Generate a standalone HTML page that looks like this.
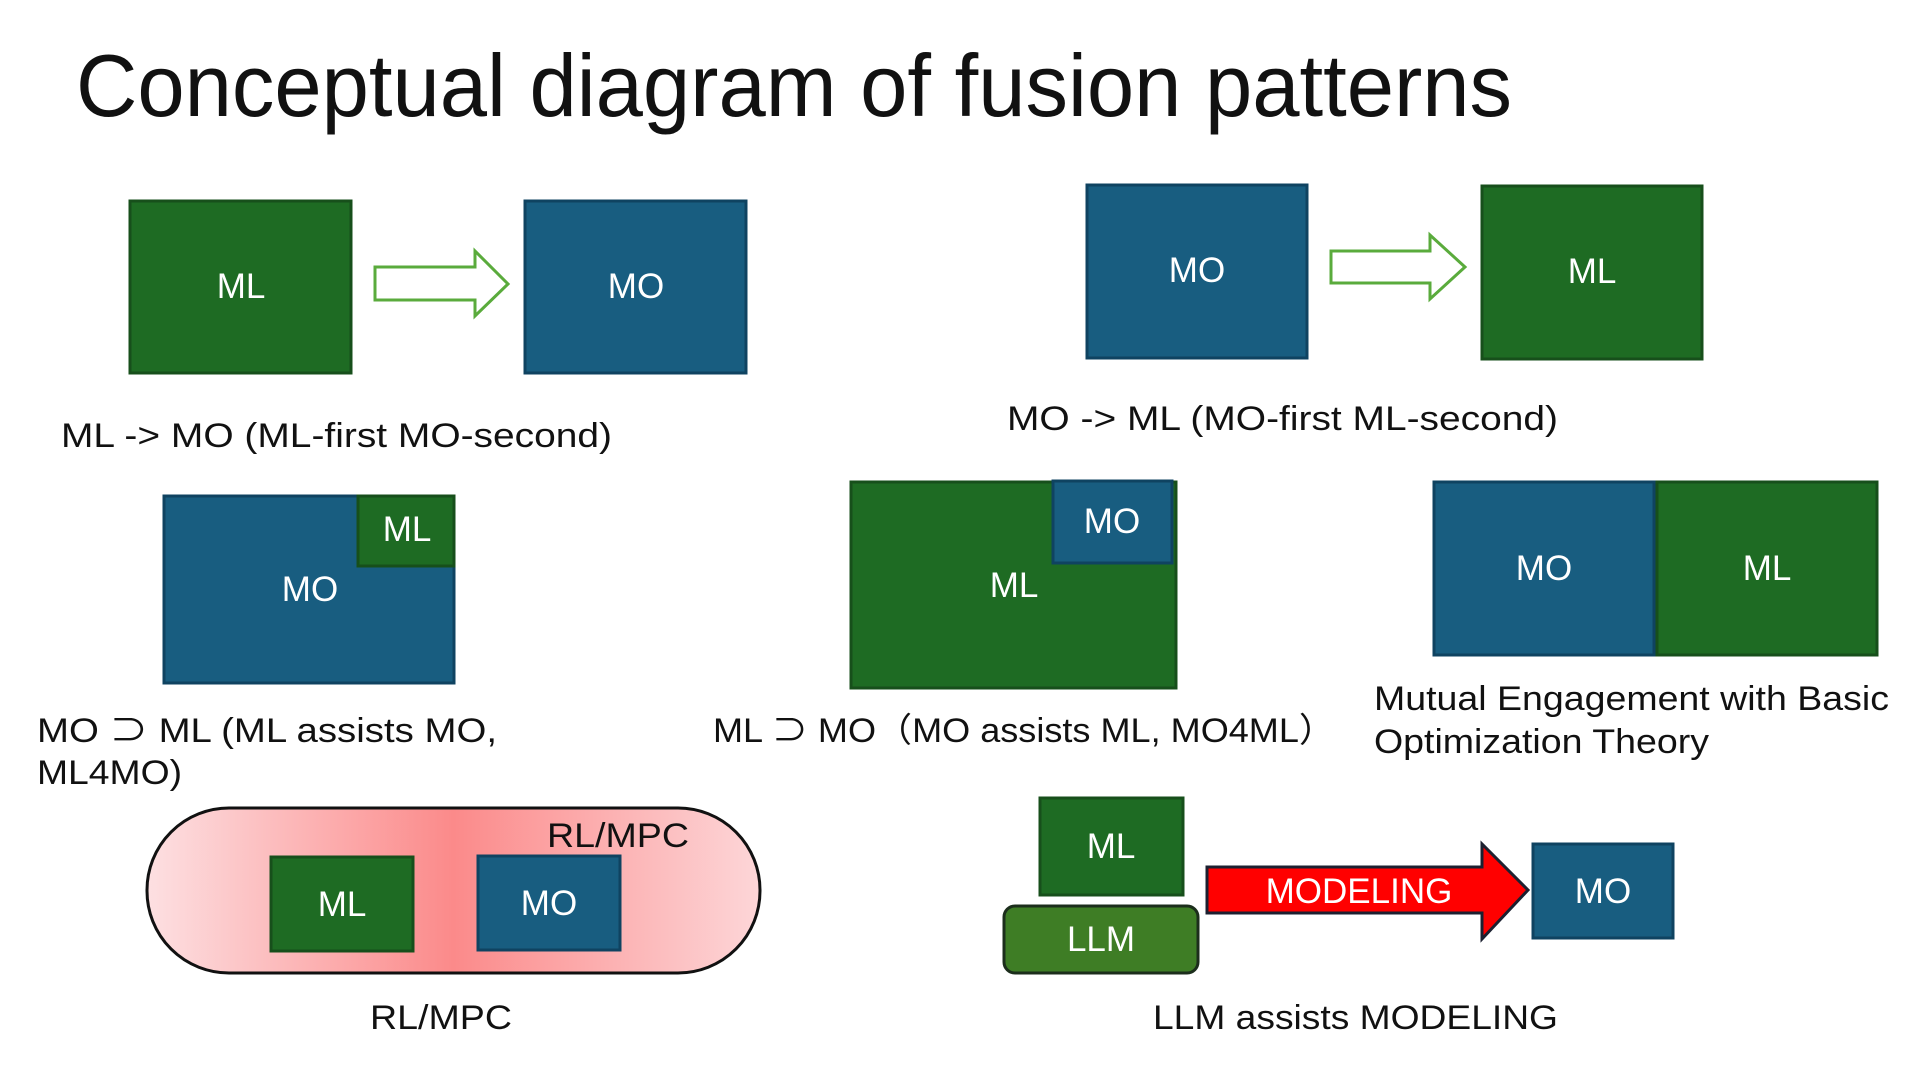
<!DOCTYPE html>
<html><head><meta charset="utf-8"><style>
html,body{margin:0;padding:0;background:#fff;}
svg{display:block;}
text{font-family:"Liberation Sans","Noto Sans CJK JP",sans-serif;}
.w{fill:#fff;font-size:35px;text-anchor:middle;}
.k{fill:#111;font-size:34px;}
.g{fill:#1e6b23;stroke:#174f1b;stroke-width:3;}
.b{fill:#185d80;stroke:#0f4361;stroke-width:3;}
</style></head><body>
<svg width="1920" height="1080" viewBox="0 0 1920 1080" xmlns="http://www.w3.org/2000/svg">
<defs>
<linearGradient id="pg" x1="0" y1="0" x2="1" y2="0">
<stop offset="0" stop-color="#fde0e2"/>
<stop offset="0.5" stop-color="#fb8a8a"/>
<stop offset="1" stop-color="#fdd6d8"/>
</linearGradient>
</defs>
<text x="76" y="116" font-size="88" fill="#111" textLength="1436" lengthAdjust="spacingAndGlyphs">Conceptual diagram of fusion patterns</text>

<!-- 1 -->
<rect class="g" x="130" y="201" width="221" height="172"/>
<text class="w" x="241" y="298">ML</text>
<rect class="b" x="525" y="201" width="221" height="172"/>
<text class="w" x="636" y="298">MO</text>
<polygon points="375,267 475,267 475,251 508,284 475,316 475,300 375,300" fill="#fff" stroke="#5aab3c" stroke-width="3"/>
<text class="k" x="61" y="447" textLength="551" lengthAdjust="spacingAndGlyphs">ML -&gt; MO (ML-first MO-second)</text>

<!-- 2 -->
<rect class="b" x="1087" y="185" width="220" height="173"/>
<text class="w" x="1197" y="282">MO</text>
<rect class="g" x="1482" y="186" width="220" height="173"/>
<text class="w" x="1592" y="283">ML</text>
<polygon points="1331,251 1430,251 1430,235 1465,267 1430,299 1430,283 1331,283" fill="#fff" stroke="#5aab3c" stroke-width="3"/>
<text class="k" x="1007" y="430" textLength="551" lengthAdjust="spacingAndGlyphs">MO -&gt; ML (MO-first ML-second)</text>

<!-- 3 -->
<rect class="b" x="164" y="496" width="290" height="187"/>
<rect class="g" x="358" y="496" width="96" height="70"/>
<text class="w" x="310" y="601">MO</text>
<text class="w" x="407" y="541">ML</text>
<text class="k" x="37" y="742" textLength="460" lengthAdjust="spacingAndGlyphs">MO ⊃ ML  (ML assists MO,</text>
<text class="k" x="37" y="784" textLength="145" lengthAdjust="spacingAndGlyphs">ML4MO)</text>

<!-- 4 -->
<rect class="g" x="851" y="482" width="325" height="206"/>
<rect class="b" x="1053" y="481" width="119" height="82"/>
<text class="w" x="1014" y="597">ML</text>
<text class="w" x="1112" y="533">MO</text>
<text class="k" x="713" y="742" textLength="622" lengthAdjust="spacingAndGlyphs">ML ⊃ MO（MO assists ML, MO4ML）</text>

<!-- 5 -->
<rect class="b" x="1434" y="482" width="220" height="173"/>
<rect class="g" x="1657" y="482" width="220" height="173"/>
<text class="w" x="1544" y="580">MO</text>
<text class="w" x="1767" y="580">ML</text>
<text class="k" x="1374" y="710" textLength="515" lengthAdjust="spacingAndGlyphs">Mutual Engagement with Basic</text>
<text class="k" x="1374" y="753" textLength="335" lengthAdjust="spacingAndGlyphs">Optimization Theory</text>

<!-- 6 -->
<rect x="147" y="808" width="613" height="165" rx="82" ry="82" fill="url(#pg)" stroke="#111" stroke-width="3"/>
<text x="547" y="847" font-size="34" fill="#111" textLength="142" lengthAdjust="spacingAndGlyphs">RL/MPC</text>
<rect class="g" x="271" y="857" width="142" height="94"/>
<text class="w" x="342" y="916">ML</text>
<rect class="b" x="478" y="856" width="142" height="94"/>
<text class="w" x="549" y="915">MO</text>
<text class="k" x="370" y="1029" textLength="142" lengthAdjust="spacingAndGlyphs">RL/MPC</text>

<!-- 7 -->
<rect class="g" x="1040" y="798" width="143" height="97"/>
<text class="w" x="1111" y="858">ML</text>
<rect x="1004" y="906" width="194" height="67" rx="11" fill="#3e7d25" stroke="#1c2e1c" stroke-width="3"/>
<text class="w" x="1101" y="951">LLM</text>
<polygon points="1207,867 1482,867 1482,844 1528,890 1482,939 1482,913 1207,913" fill="#f00" stroke="#1c2030" stroke-width="3"/>
<text class="w" x="1359" y="903" font-size="34">MODELING</text>
<rect class="b" x="1533" y="844" width="140" height="94"/>
<text class="w" x="1603" y="903">MO</text>
<text class="k" x="1153" y="1029" textLength="405" lengthAdjust="spacingAndGlyphs">LLM assists MODELING</text>
</svg>
</body></html>
